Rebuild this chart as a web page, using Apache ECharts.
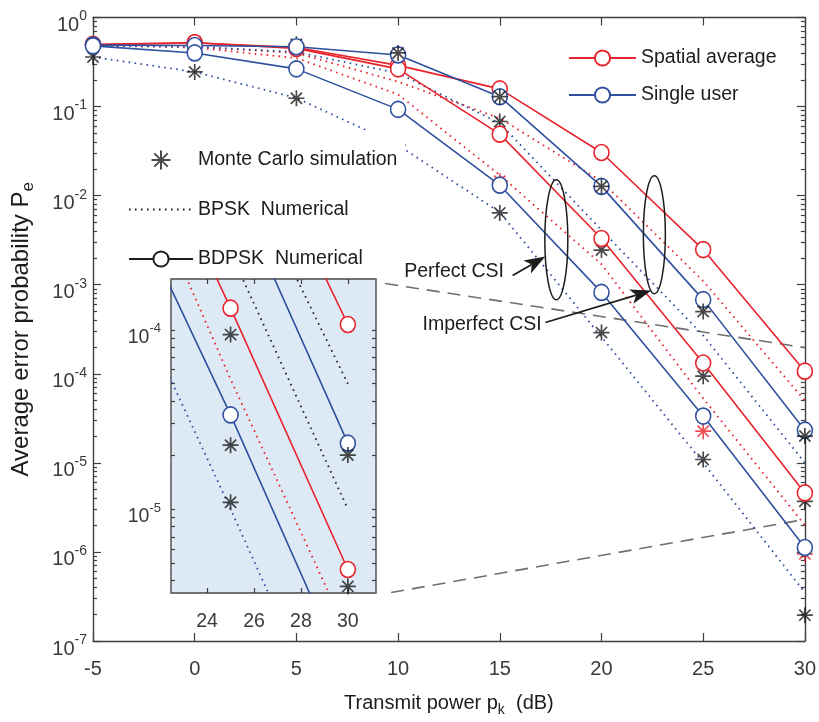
<!DOCTYPE html>
<html>
<head>
<meta charset="utf-8">
<script src="https://cdn.jsdelivr.net/npm/echarts@6/dist/echarts.min.js"></script>
<style>
  html, body { margin: 0; padding: 0; background: #fff; }
  #chart { width: 819px; height: 722px; }
</style>
</head>
<body>
<div id="chart"></div>
<script>
// Transmit power grid (dB)
const snr = [-5, 0, 5, 10, 15, 20, 25, 30];

// BDPSK numerical (solid lines with circles)
const saImperfectBDPSK = [0.50, 0.52, 0.46, 0.29, 0.158, 0.0305, 2.48e-3, 1.07e-4];
const saPerfectBDPSK   = [0.49, 0.52, 0.45, 0.265, 0.049, 3.3e-3, 1.32e-4, 4.6e-6];
const suImperfectBDPSK = [0.49, 0.485, 0.47, 0.38, 0.129, 0.0127, 6.8e-4, 2.33e-5];
const suPerfectBDPSK   = [0.48, 0.40, 0.265, 0.093, 0.0131, 8.2e-4, 3.35e-5, 1.12e-6];

// BPSK numerical (dotted lines)
const saImperfectBPSK = [0.49, 0.47, 0.40, 0.19, 0.074, 0.0145, 1.1e-3, 5.0e-5];
const saPerfectBPSK   = [0.49, 0.46, 0.35, 0.137, 0.017, 1.7e-3, 5.3e-5, 2.0e-6];
const suImperfectBPSK = [0.48, 0.47, 0.41, 0.237, 0.065, 4.1e-3, 2.7e-4, 1.0e-5];
const suPerfectBPSK   = [0.36, 0.245, 0.125, 0.037, 6.5e-3, 2.6e-4, 1.0e-5, 3.5e-7];

// Monte Carlo simulation points
const mcBackSnr = [-5, -5, 0, 0, 5, 5, 10, 15, 15, 20, 20, 25, 25, 30, 30];
const mcBackPe  = [0.50, 0.36, 0.52, 0.245, 0.50, 0.124, 0.037, 0.068, 6.4e-3, 2.45e-3, 2.9e-4, 9.4e-5, 1.09e-5, 3.7e-6, 1.95e-7];
const mcFrontSnr = [10, 15, 20, 25, 30];
const mcFrontPe  = [0.40, 0.129, 0.0127, 5.0e-4, 2.0e-5];
const mcRedSnr = [15, 25, 30];
const mcRedPe  = [0.0145, 2.27e-5, 9.5e-7];

// Tick labels
const mainXTicks = [-5, 0, 5, 10, 15, 20, 25, 30];
const insetXTicks = [24, 26, 28, 30];
const insetYLabels = [1e-5, 1e-4];

// Zoom window shown in the inset
const insetXRange = [22.46, 31.2];
const insetYRange = [3.4e-6, 1.92e-4];

// Guide lines joining the inset to the zoomed window (data coordinates)
const guideUpper = [[9.37, 1.03e-3], [30, 1.97e-4]];
const guideLower = [[9.66, 3.5e-7], [29.75, 2.26e-6]];

// Annotation anchors (data coordinates)
const perfectEllipseAt = [17.78, 3.2e-3];
const imperfectEllipseAt = [22.6, 3.65e-3];
const perfectArrow = [[15.63, 1.27e-3], [17.24, 2.07e-3]];
const imperfectArrow = [[17.24, 3.76e-4], [22.45, 8.6e-4]];
const perfectLabelAt = [10.3, 1.40e-3];
const imperfectLabelAt = [11.2, 3.57e-4];

const FONT = '"Liberation Sans",Arial,sans-serif';
const RED = '#e8232b';
const BLUE = '#2f4f9f';
const INK = '#1c1c1c';
const AXIS = '#3f3f3f';
const LABEL = '#3a3a3a';
const STAR = 'path://M10,0L10,20M0,10L20,10M3,3L17,17M3,17L17,3';

const pairs = (xs, ys) => xs.map((x, i) => [x, ys[i]]);

function decadeTicks(lo, hi, mults) {
  const out = [];
  for (let k = Math.floor(Math.log10(lo)) - 1; k <= Math.ceil(Math.log10(hi)); k++) {
    for (const m of mults) {
      const v = m * Math.pow(10, k);
      if (v >= lo * 0.999 && v <= hi * 1.001) out.push(v);
    }
  }
  return out;
}
const mainMinor = decadeTicks(1e-7, 1, [2, 3, 4, 5, 6, 7, 8, 9]);
const insetYTicks = decadeTicks(insetYRange[0], insetYRange[1], [1, 2, 3, 4, 5, 6, 7, 8, 9]);

const supRich = {
  b: { fontSize: 20, fontFamily: FONT, color: LABEL, verticalAlign: 'bottom', lineHeight: 21 },
  sup: { fontSize: 14, fontFamily: FONT, color: LABEL, verticalAlign: 'bottom', padding: [0, 0, 12, 0] }
};
const powLabel = v => '{b|10}{sup|' + Math.round(Math.log10(v)) + '}';

function solid(name, data, color, xi, yi, z) {
  return {
    type: 'line', name, data, xAxisIndex: xi, yAxisIndex: yi,
    symbol: 'circle', symbolSize: [15, 16], showSymbol: true,
    lineStyle: { color, width: 1.6 },
    itemStyle: { color: '#fff', borderColor: color, borderWidth: 1.6 },
    z: z || 4, animation: false
  };
}
function dotted(name, data, color, xi, yi) {
  return {
    type: 'line', name, data, xAxisIndex: xi, yAxisIndex: yi,
    symbol: 'none', showSymbol: false,
    lineStyle: { color, width: 1.8, type: [1.6, 4.4] },
    z: 2, animation: false
  };
}
function stars(name, data, color, xi, yi, z) {
  return {
    type: 'scatter', name, data, xAxisIndex: xi, yAxisIndex: yi,
    symbol: STAR, symbolSize: 16, symbolKeepAspect: true,
    itemStyle: { color: 'transparent', borderColor: color, borderWidth: 1.7 },
    z, animation: false
  };
}
function guide(data) {
  return {
    type: 'line', data, xAxisIndex: 0, yAxisIndex: 0, symbol: 'none',
    lineStyle: { color: '#6e6e6e', width: 1.6, type: [13, 8] },
    z: 1, silent: true, animation: false
  };
}

const axisLine = { show: true, onZero: false, lineStyle: { color: AXIS, width: 1.4 } };
const noLine = { show: false, onZero: false };
const tickStyle = { color: AXIS, width: 1.2 };

const option = {
  animation: false,
  backgroundColor: '#fff',
  textStyle: { fontFamily: FONT },
  grid: [
    { left: 93, right: 11, top: 17.5, bottom: 80 },
    { left: 171, top: 279, width: 205, height: 314, show: true,
      backgroundColor: '#dde9f5', borderColor: '#4a4a4a', borderWidth: 1.4, z: 6 }
  ],
  legend: [
    {
      data: ['Spatial average', 'Single user'],
      orient: 'vertical', left: 568, top: 47,
      itemWidth: 67, itemHeight: 19, itemGap: 15, padding: 0,
      textStyle: { fontSize: 19.5, fontFamily: FONT, color: INK, lineHeight: 22 },
      selectedMode: false
    },
    {
      data: ['Monte Carlo simulation', 'BPSK  Numerical', 'BDPSK  Numerical'],
      orient: 'vertical', left: 120, top: 130,
      itemWidth: 64, itemHeight: 19, itemGap: 27.5, padding: [19, 8, 10, 8],
      backgroundColor: '#fff',
      textStyle: { fontSize: 19.5, fontFamily: FONT, color: INK, lineHeight: 22 },
      selectedMode: false, z: 5
    }
  ],
  xAxis: [
    {
      gridIndex: 0, type: 'value', min: -5, max: 30, interval: 5, position: 'bottom',
      axisLine, axisTick: { inside: true, length: 8, lineStyle: tickStyle },
      axisLabel: { fontSize: 20, fontFamily: FONT, color: LABEL, margin: 18,
                   customValues: mainXTicks },
      splitLine: { show: false },
      name: 'Transmit power p{sub|k}  (dB)', nameLocation: 'middle', nameGap: 49,
      nameTextStyle: {
        fontSize: 20, fontFamily: FONT, color: INK,
        rich: {
          sub: { fontSize: 14, fontFamily: FONT, color: INK, padding: [13, 0, 0, 0] }
        }
      }
    },
    {
      gridIndex: 0, type: 'value', min: -5, max: 30, interval: 5, position: 'top',
      axisLine, axisTick: { inside: true, length: 8, lineStyle: tickStyle },
      axisLabel: { show: false }, splitLine: { show: false }
    },
    {
      gridIndex: 1, type: 'value', min: insetXRange[0], max: insetXRange[1], position: 'bottom',
      axisLine: noLine,
      axisTick: { inside: true, length: 5, lineStyle: tickStyle, customValues: insetXTicks },
      axisLabel: { fontSize: 19.5, fontFamily: FONT, color: LABEL, margin: 19, customValues: insetXTicks },
      splitLine: { show: false }, z: 7
    },
    {
      gridIndex: 1, type: 'value', min: insetXRange[0], max: insetXRange[1], position: 'top',
      axisLine: noLine,
      axisTick: { inside: true, length: 5, lineStyle: tickStyle, customValues: insetXTicks },
      axisLabel: { show: false }, splitLine: { show: false }, z: 7
    }
  ],
  yAxis: [
    {
      gridIndex: 0, type: 'log', logBase: 10, min: 1e-7, max: 1, position: 'left',
      axisLine, axisTick: { inside: true, length: 8, lineStyle: tickStyle },
      axisLabel: { formatter: powLabel, rich: supRich, margin: 6, padding: [10, 0, 0, 0] },
      splitLine: { show: false },
      name: 'Average error probability P{sub|e}', nameLocation: 'middle', nameGap: 56,
      nameRotate: 90,
      nameTextStyle: {
        fontSize: 24, fontFamily: FONT, color: INK,
        rich: {
          sub: { fontSize: 17, fontFamily: FONT, color: INK, padding: [15, 0, 0, 0] }
        }
      }
    },
    {
      gridIndex: 0, type: 'log', logBase: 10, min: 1e-7, max: 1, position: 'left',
      axisLine: noLine,
      axisTick: { inside: true, length: 4, lineStyle: tickStyle, customValues: mainMinor },
      axisLabel: { show: false }, splitLine: { show: false }
    },
    {
      gridIndex: 0, type: 'log', logBase: 10, min: 1e-7, max: 1, position: 'right',
      axisLine, axisTick: { inside: true, length: 8, lineStyle: tickStyle },
      axisLabel: { show: false }, splitLine: { show: false }
    },
    {
      gridIndex: 0, type: 'log', logBase: 10, min: 1e-7, max: 1, position: 'right',
      axisLine: noLine,
      axisTick: { inside: true, length: 4, lineStyle: tickStyle, customValues: mainMinor },
      axisLabel: { show: false }, splitLine: { show: false }
    },
    {
      gridIndex: 1, type: 'log', logBase: 10, min: insetYRange[0], max: insetYRange[1], position: 'left',
      axisLine: noLine,
      axisTick: { inside: true, length: 4, lineStyle: tickStyle, customValues: insetYTicks },
      axisLabel: {
        formatter: powLabel, margin: 10, padding: [10, 0, 0, 0], customValues: insetYLabels,
        rich: {
          b: { fontSize: 19.5, fontFamily: FONT, color: LABEL, verticalAlign: 'bottom', lineHeight: 21 },
          sup: { fontSize: 13, fontFamily: FONT, color: LABEL, verticalAlign: 'bottom', padding: [0, 0, 12, 0] }
        }
      },
      splitLine: { show: false }, z: 7
    },
    {
      gridIndex: 1, type: 'log', logBase: 10, min: insetYRange[0], max: insetYRange[1], position: 'right',
      axisLine: noLine,
      axisTick: { inside: true, length: 4, lineStyle: tickStyle, customValues: insetYTicks },
      axisLabel: { show: false }, splitLine: { show: false }, z: 7
    }
  ],
  series: [
    // main panel
    guide(guideUpper),
    guide(guideLower),
    dotted('BPSK spatial imperfect', pairs(snr, saImperfectBPSK), RED, 0, 0),
    dotted('BPSK spatial perfect', pairs(snr, saPerfectBPSK), RED, 0, 0),
    dotted('BPSK single imperfect', pairs(snr, suImperfectBPSK), BLUE, 0, 0),
    dotted('BPSK single perfect', pairs(snr, suPerfectBPSK), BLUE, 0, 0),
    stars('Monte Carlo simulation', pairs(mcBackSnr, mcBackPe), INK, 0, 0, 3),
    stars('Monte Carlo spatial', pairs(mcRedSnr, mcRedPe), RED, 0, 0, 3),
    solid('Spatial average', pairs(snr, saImperfectBDPSK), RED, 0, 0),
    solid('Spatial average', pairs(snr, saPerfectBDPSK), RED, 0, 0),
    solid('Single user', pairs(snr, suImperfectBDPSK), BLUE, 0, 0),
    solid('Single user', pairs(snr, suPerfectBDPSK), BLUE, 0, 0),
    stars('Monte Carlo simulation', pairs(mcFrontSnr, mcFrontPe), INK, 0, 0, 5),
    // legend-only styles
    { type: 'line', name: 'BPSK  Numerical', data: [], xAxisIndex: 0, yAxisIndex: 0,
      symbol: 'none', lineStyle: { color: INK, width: 1.8, type: [1.6, 4.4] },
      itemStyle: { color: 'transparent', borderColor: 'transparent', borderWidth: 0 } },
    { type: 'line', name: 'BDPSK  Numerical', data: [], xAxisIndex: 0, yAxisIndex: 0,
      symbol: 'circle', symbolSize: [15, 16],
      lineStyle: { color: INK, width: 1.6 },
      itemStyle: { color: '#fff', borderColor: INK, borderWidth: 1.6 } },
    // inset panel
    Object.assign(dotted('Inset BPSK spatial imperfect', pairs(snr, saImperfectBPSK), '#222', 2, 4), { z: 8 }),
    Object.assign(dotted('Inset BPSK spatial perfect', pairs(snr, saPerfectBPSK), RED, 2, 4), { z: 8 }),
    Object.assign(dotted('Inset BPSK single imperfect', pairs(snr, suImperfectBPSK), '#222', 2, 4), { z: 8 }),
    Object.assign(dotted('Inset BPSK single perfect', pairs(snr, suPerfectBPSK), BLUE, 2, 4), { z: 8 }),
    stars('Inset Monte Carlo', pairs(mcBackSnr, mcBackPe), INK, 2, 4, 9),
    stars('Inset Monte Carlo spatial', pairs(mcRedSnr, mcRedPe), INK, 2, 4, 9),
    solid('Inset spatial imperfect', pairs(snr, saImperfectBDPSK), RED, 2, 4, 10),
    solid('Inset spatial perfect', pairs(snr, saPerfectBDPSK), RED, 2, 4, 10),
    solid('Inset single imperfect', pairs(snr, suImperfectBDPSK), BLUE, 2, 4, 10),
    solid('Inset single perfect', pairs(snr, suPerfectBDPSK), BLUE, 2, 4, 10),
    stars('Inset Monte Carlo front', pairs(mcFrontSnr, mcFrontPe), INK, 2, 4, 11)
  ]
};

const chart = echarts.init(document.getElementById('chart'), null, { renderer: 'canvas' });
chart.setOption(option);

// Annotations: ellipses, arrows and their labels, placed through the main axes
const px = p => chart.convertToPixel({ xAxisIndex: 0, yAxisIndex: 0 }, p);

function arrow(from, to) {
  const a = px(from), b = px(to);
  const dx = b[0] - a[0], dy = b[1] - a[1];
  const len = Math.hypot(dx, dy), ux = dx / len, uy = dy / len;
  const head = 21, half = 7.5;
  const base = [b[0] - ux * head, b[1] - uy * head];
  const notch = [b[0] - ux * head * 0.75, b[1] - uy * head * 0.75];
  return [
    { type: 'line', shape: { x1: a[0], y1: a[1], x2: notch[0], y2: notch[1] },
      style: { stroke: INK, lineWidth: 1.7 }, z: 20 },
    { type: 'polygon',
      shape: { points: [b, [base[0] - uy * half, base[1] + ux * half], notch, [base[0] + uy * half, base[1] - ux * half]] },
      style: { fill: INK }, z: 20 }
  ];
}
function ellipse(at, rx, ry) {
  const c = px(at);
  return { type: 'ellipse', shape: { cx: c[0], cy: c[1], rx, ry },
           style: { fill: 'none', stroke: INK, lineWidth: 1.5 }, z: 20 };
}
function label(at, text) {
  const p = px(at);
  return { type: 'text', x: p[0], y: p[1], z: 20,
           style: { text, font: '19.5px ' + FONT, fill: INK, verticalAlign: 'middle', align: 'left' } };
}

chart.setOption({
  graphic: [
    ellipse(perfectEllipseAt, 11.5, 60),
    ellipse(imperfectEllipseAt, 11, 59),
    ...arrow(perfectArrow[0], perfectArrow[1]),
    ...arrow(imperfectArrow[0], imperfectArrow[1]),
    label(perfectLabelAt, 'Perfect CSI'),
    label(imperfectLabelAt, 'Imperfect CSI')
  ]
});
</script>
</body>
</html>
